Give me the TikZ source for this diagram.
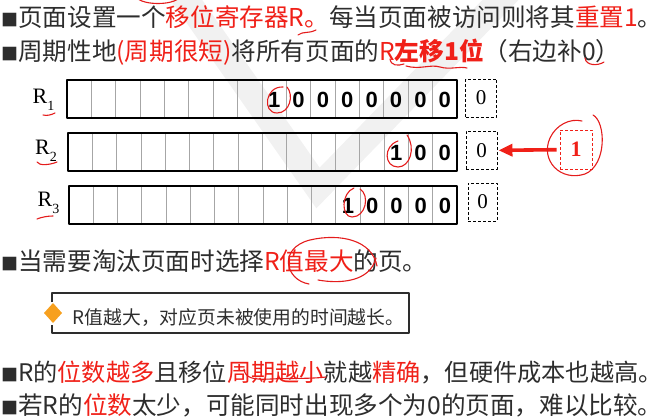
\documentclass[tikz,border=0pt]{standalone}
\usepackage{fontspec}
\setmainfont{Noto Sans CJK SC}
\newfontfamily\arialfont{Liberation Sans}
\newfontfamily\timesfont{Liberation Serif}
\usetikzlibrary{arrows.meta}
\definecolor{txtgray}{RGB}{45,45,45}
\definecolor{hired}{RGB}{240,32,24}
\definecolor{penred}{RGB}{228,28,28}
\definecolor{dotorange}{RGB}{247,160,30}
\definecolor{wmgray}{RGB}{241,241,241}
\newcommand{\blk}{{\fontsize{17}{17}\selectfont ■}}
\newcommand{\hl}[1]{\textcolor{hired}{#1}}
\tikzset{
  txtline/.style={anchor=base west, inner sep=0pt, text=txtgray, font=\fontsize{24.6}{24.6}\selectfont},
  bit/.style={inner sep=0pt, font=\arialfont\bfseries\fontsize{22}{22}\selectfont},
  pad/.style={draw, dash pattern=on 3pt off 2pt, line width=0.9pt, minimum width=31, minimum height=38, inner sep=0pt, font=\timesfont\fontsize{21}{21}\selectfont},
  reglabel/.style={anchor=base west, inner sep=0pt, font=\timesfont\fontsize{22}{22}\selectfont},
  pen/.style={penred, line width=1.1pt, line cap=round, line join=round},
}
\begin{document}
\begin{tikzpicture}[x=1pt, y=-1pt, line join=round]
\useasboundingbox (0,0) rectangle (671,419);
% watermark
\draw[wmgray, line width=26, line join=miter] (178,-12) -- (318,188) -- (512,-12);
% text lines
\node[txtline] (l1) at (1,26.5) {\blk 页面设置一个\hl{移位寄存器R。}每当页面被访问则将其\hl{重置1}。};
\node[txtline] (l2) at (1,60.5) {\blk 周期性地\hl{(周期很短)}将所有页面的\hl{R\textbf{左移1位}}（右边补0）};
% registers
\foreach \n/\xl/\yt/\ones/\yb in {1/67/80/8/104, 2/68/133/3/155, 3/69/186/5/207}{
  \foreach \i in {1,...,15}
    \draw[gray!70, line width=0.8pt] ({\xl+\i*(457-\xl)/16},\yt) -- ({\xl+\i*(457-\xl)/16},\yt+38);
  \draw[line width=2.2pt] (\xl,\yt) rectangle (457,\yt+38);
  \foreach \i in {1,...,\ones}
    \node[bit] (b\n-\i) at ({457-(\ones-\i+0.5)*(457-\xl)/16},\yt+19.5) {\ifnum\i=1 1\else 0\fi};
  \node[reglabel] (r\n) at ({30+\n*2.5},\yb) {R\raisebox{-0.3em}{\fontsize{14}{14}\selectfont \n}};
}
\node[pad] (pad1) at (481,98) {0};
\node[pad] (pad2) at (481.5,150.5) {0};
\node[pad, minimum width=29] (pad3) at (482.5,202) {0};
\node[pad, draw=hired, text=hired, line width=0.6pt, minimum width=32, minimum height=39, font=\timesfont\bfseries\fontsize{22}{22}\selectfont] (one) at (576,149.5) {1};
\draw[hired, line width=3.6pt, -{Triangle[length=14pt, width=12pt]}, shorten <=3pt, shorten >=1pt] (one) -- (pad2);
% lower text
\node[txtline] (l3) at (1,271) {\blk 当需要淘汰页面时选择\hl{R值最大}的页。};
\draw[txtgray, line width=2.4pt, line cap=butt] (52,302) -- (52,293) -- (409,293) -- (409,333) -- (52,333) -- (52,325);
\fill[dotorange] (53,303) -- (62,313) -- (53,323) -- (44,313) -- cycle;
\node[txtline, font=\fontsize{18.8}{18.8}\selectfont] (tip) at (72.5,324) {R值越大，对应页未被使用的时间越长。};
\node[txtline, font=\fontsize{24.2}{24.2}\selectfont] (l4) at (1,381) {\blk R的\hl{位数越多}且移位\hl{周期越小}就越\hl{精确}，但硬件成本也越高。};
\node[txtline] (l5) at (1,414) {\blk 若R的\hl{位数}太少，可能同时出现多个为0的页面，难以比较。};
% pen marks
\draw[pen] (138,-1) .. controls (146,5) and (170,5) .. (178,-1);
\draw[pen] (298,35) .. controls (303,31) and (308,34) .. (316,30);
\draw[pen] (390,59) .. controls (391,66) and (398,66) .. (404,64);
\draw[pen] (406,66) .. controls (420,70) and (430,64) .. (440,67) .. controls (450,70) and (460,66) .. (467,68);
\draw[pen] (585,58) .. controls (586,66) and (598,66) .. (604,62);
\draw[pen] (43,115) .. controls (47,116) and (51,115) .. (55,113);
\draw[pen] (37,162) .. controls (39,166) and (50,165) .. (57,162);
\draw[pen] (37,219) .. controls (42,217) and (48,216) .. (53,216);
\draw[pen] (283,87) .. controls (265,86) and (262,113) .. (277,113) .. controls (290,113) and (294,95) .. (287,87);
\draw[pen] (407,135) .. controls (416,148) and (410,167) .. (398,167) .. controls (384,167) and (383,146) .. (398,141);
\draw[pen] (354,188) .. controls (341,193) and (341,217) .. (352,217) .. controls (366,217) and (370,195) .. (360,189);
\draw[pen] (593,115) .. controls (606,122) and (607,165) .. (585,174) .. controls (560,182) and (540,160) .. (550,138) .. controls (556,125) and (570,118) .. (582,121);
\draw[pen] (309,284) .. controls (285,280) and (278,248) .. (310,240) .. controls (340,233) and (372,240) .. (377,266);
\draw[pen] (318,280) .. controls (340,284) and (370,282) .. (376,258);
\draw[pen] (244,369) .. controls (245,378) and (253,380) .. (271,379) .. controls (291,378) and (310,379) .. (326,377);
\end{tikzpicture}
\end{document}
